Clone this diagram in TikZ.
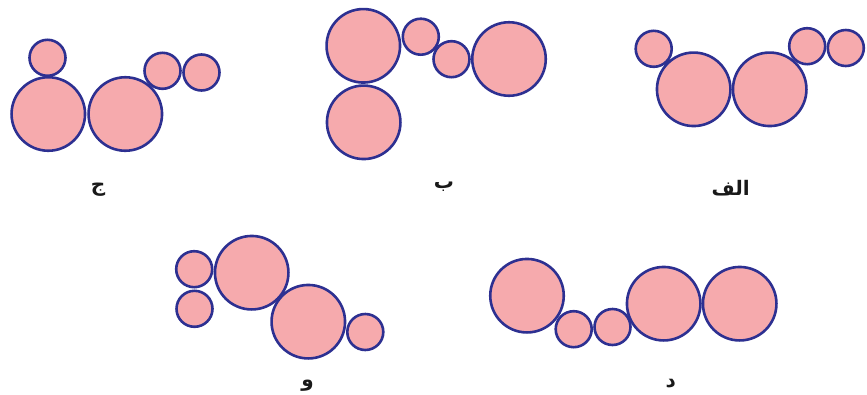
\documentclass[tikz,border=0pt]{standalone}
\usepackage{fontspec}
\newfontfamily\arabicfont[Script=Arabic]{DejaVu Sans}
\TeXXeTstate=1
\definecolor{ballpink}{RGB}{246,170,173}
\definecolor{balledge}{RGB}{45,48,145}
\tikzset{
  ball/.style={circle,draw=balledge,fill=ballpink,line width=2.6pt,inner sep=0pt},
  bigball/.style={ball,minimum size=73.5pt},
  smallball/.style={ball,minimum size=36pt},
  tag/.style={font=\arabicfont\bfseries\fontsize{20}{24}\selectfont,text=black!90,anchor=base,inner sep=0pt}
}
\begin{document}
\begin{tikzpicture}[x=1pt,y=-1pt]
		\useasboundingbox (0,0) rectangle (867,394);
		% group alef
		\node[smallball] (a1) at (653.7,48.8) {};
		\node[bigball] (a2) at (693.7,89.3) {};
		\node[bigball] (a3) at (769.7,89.3) {};
		\node[smallball] (a4) at (807.2,46.2) {};
		\node[smallball] (a5) at (845.8,48) {};
		\node[tag] (la) at (730.7,195) {\beginR الف\endR};
		% group be
		\node[bigball] (b1) at (363.3,45.8) {};
		\node[bigball] (b2) at (363.7,122.3) {};
		\node[smallball] (b3) at (420.8,36.7) {};
		\node[smallball] (b4) at (451.5,59.2) {};
		\node[bigball] (b5) at (509,59) {};
		\node[tag] (lb) at (444,188) {\beginR ب\endR};
		% group jim
		\node[smallball] (c1) at (47.5,57.8) {};
		\node[bigball] (c2) at (48.3,114) {};
		\node[bigball] (c3) at (125.3,114) {};
		\node[smallball] (c4) at (162.5,70.8) {};
		\node[smallball] (c5) at (201.5,72.5) {};
		\node[tag] (lc) at (98,191) {\beginR ج\endR};
		% group dal
		\node[bigball] (d1) at (527,295.7) {};
		\node[smallball] (d2) at (573.7,329.2) {};
		\node[smallball] (d3) at (612.5,327) {};
		\node[bigball] (d4) at (663.7,303.7) {};
		\node[bigball] (d5) at (739.7,303.7) {};
		\node[tag] (ld) at (670.7,387) {\beginR د\endR};
		% group vav
		\node[smallball] (e1) at (194.2,269.2) {};
		\node[smallball] (e2) at (194.5,308.8) {};
		\node[bigball] (e3) at (251.7,272.7) {};
		\node[bigball] (e4) at (308.3,321.7) {};
		\node[smallball] (e5) at (365.3,332) {};
		\node[tag] (le) at (307.5,386) {\beginR و\endR};
	\end{tikzpicture}
\end{document}
